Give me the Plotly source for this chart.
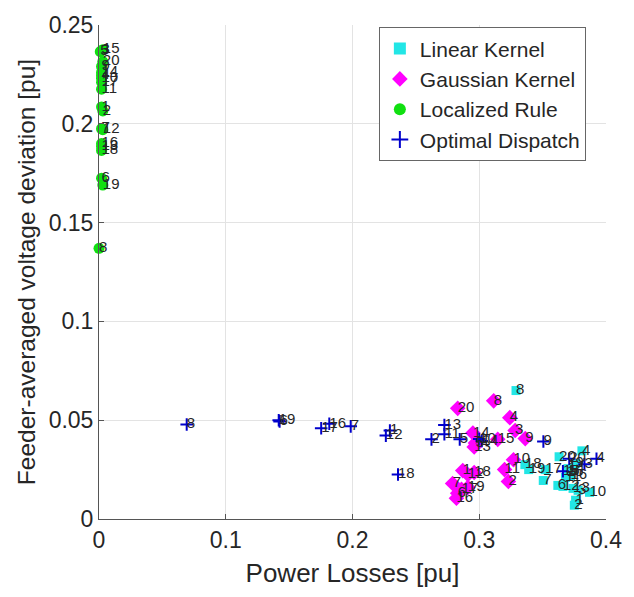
import plotly.graph_objects as go

labels = [str(i) for i in range(1, 21)]

# Linear Kernel (cyan squares)
lin_x = [0.376, 0.375, 0.378, 0.381, 0.371, 0.362, 0.3505, 0.329, 0.376, 0.387,
         0.368, 0.366, 0.374, 0.370, 0.369, 0.372, 0.352, 0.336, 0.339, 0.363]
lin_y = [0.0095, 0.0070, 0.0145, 0.0345, 0.0240, 0.0170, 0.0195, 0.0650, 0.0280, 0.0135,
         0.0210, 0.0165, 0.0155, 0.0255, 0.0235, 0.0220, 0.0250, 0.0275, 0.0250, 0.0315]

# Gaussian Kernel (magenta diamonds)
gau_x = [0.287, 0.323, 0.3283, 0.3241, 0.297, 0.283, 0.279, 0.3114, 0.3363, 0.327,
         0.320, 0.291, 0.296, 0.295, 0.3146, 0.282, 0.286, 0.296, 0.291, 0.283]
gau_y = [0.0245, 0.0190, 0.0448, 0.0513, 0.0385, 0.0130, 0.0180, 0.0598, 0.0407, 0.0300,
         0.0250, 0.0225, 0.0365, 0.0435, 0.0403, 0.0105, 0.0150, 0.0235, 0.0160, 0.0560]

# Localized Rule (green circles)
loc_x = [0.002, 0.003, 0.002, 0.002, 0.001, 0.002, 0.002, 0.000, 0.002, 0.002,
         0.002, 0.003, 0.002, 0.002, 0.003, 0.002, 0.002, 0.002, 0.003, 0.003]
loc_y = [0.2085, 0.2065, 0.2370, 0.2245, 0.2365, 0.1725, 0.1975, 0.1370, 0.2290, 0.2230,
         0.2175, 0.1970, 0.1885, 0.2260, 0.2375, 0.1900, 0.2210, 0.1865, 0.1690, 0.2315]

# Optimal Dispatch (blue crosses)
opt_x = [0.2295, 0.2623, 0.383, 0.3925, 0.2846, 0.1425, 0.1986, 0.0692, 0.3506, 0.300,
         0.2725, 0.2263, 0.2725, 0.302, 0.366, 0.1817, 0.1753, 0.2359, 0.1418, 0.371]
opt_y = [0.0448, 0.0403, 0.0277, 0.0305, 0.0403, 0.0494, 0.0469, 0.0478, 0.0392, 0.0405,
         0.0429, 0.0422, 0.0476, 0.0395, 0.0242, 0.0482, 0.0459, 0.0225, 0.0500, 0.0305]

x_ticks = [0, 0.1, 0.2, 0.3, 0.4]
y_ticks = [0, 0.05, 0.1, 0.15, 0.2, 0.25]

FONT = "Liberation Sans, Arial"
txt_font = dict(family=FONT, size=15, color="#262626")

series = [
    ("Linear Kernel", lin_x, lin_y,
     dict(symbol="square", size=9, color="#22E6E6", line=dict(width=0))),
    ("Gaussian Kernel", gau_x, gau_y,
     dict(symbol="diamond", size=12, color="#FF00FF", line=dict(width=0))),
    ("Localized Rule", loc_x, loc_y,
     dict(symbol="circle", size=11, color="#11E011", line=dict(width=0))),
    ("Optimal Dispatch", opt_x, opt_y,
     dict(symbol="cross-thin", size=9, color="#0000CC", line=dict(width=2, color="#0000CC"))),
]

fig = go.Figure()
for name, xs, ys, mk in series:
    fig.add_trace(go.Scatter(x=xs, y=ys, mode="markers", name=name,
                             marker=mk, cliponaxis=False))
for name, xs, ys, mk in series:
    fig.add_trace(go.Scatter(x=xs, y=ys, mode="text", text=labels,
                             textposition="middle right", textfont=txt_font,
                             marker=dict(size=1), showlegend=False,
                             hoverinfo="skip", cliponaxis=False))

axis_common = dict(
    showgrid=True, gridcolor="#E3E3E3", gridwidth=1,
    showline=True, linecolor="#555555", linewidth=1,
    ticks="inside", ticklen=5, tickcolor="#555555",
    zeroline=False, mirror=False,
    tickfont=dict(family=FONT, size=23, color="#262626"),
)

fig.update_xaxes(range=[0, 0.4], tickvals=x_ticks, ticktext=[f"{v:g}" for v in x_ticks],
                 title=dict(text="Power Losses [pu]", standoff=12,
                            font=dict(family=FONT, size=26, color="#262626")),
                 **axis_common)
fig.update_yaxes(range=[0, 0.25], tickvals=y_ticks, ticktext=[f"{v:g}" for v in y_ticks],
                 title=dict(text="Feeder-averaged voltage deviation [pu]", standoff=6,
                            font=dict(family=FONT, size=24.5, color="#262626")),
                 **axis_common)

fig.update_layout(
    width=634, height=597,
    margin=dict(l=99, r=19, t=13, b=78),
    paper_bgcolor="white", plot_bgcolor="white",
    showlegend=True,
    legend=dict(x=0.552, y=0.995, xanchor="left", yanchor="top",
                bgcolor="white", bordercolor="#666666", borderwidth=1,
                font=dict(family=FONT, size=21, color="#262626"),
                itemsizing="constant", tracegroupgap=0),
)

fig.write_html("out.html")
